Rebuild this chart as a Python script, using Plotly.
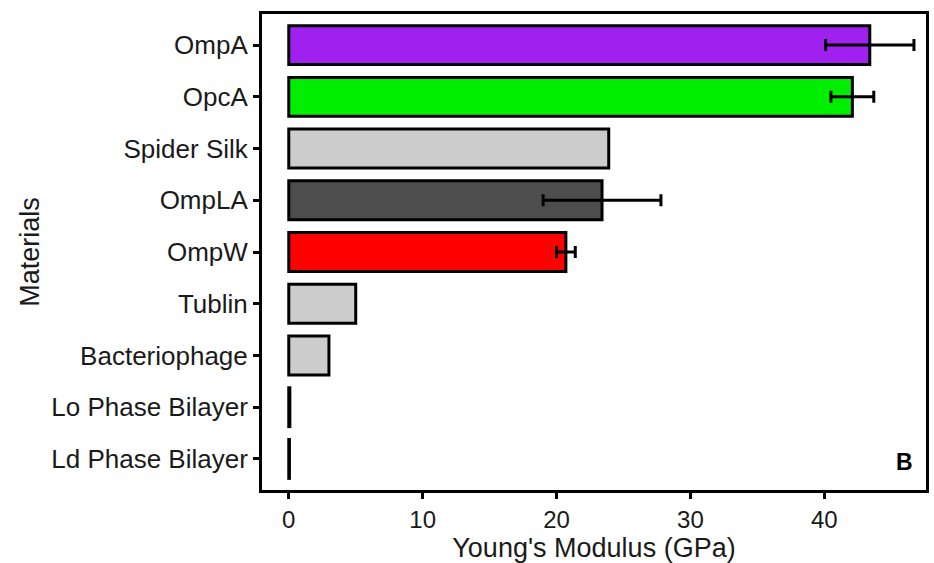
import plotly.graph_objects as go

materials = ["OmpA", "OpcA", "Spider Silk", "OmpLA", "OmpW", "Tublin",
             "Bacteriophage", "Lo Phase Bilayer", "Ld Phase Bilayer"]
modulus = [43.4, 42.1, 23.9, 23.4, 20.7, 5.0, 3.0, 0.08, 0.05]
errors = [3.3, 1.6, 0.0, 4.4, 0.7, 0.0, 0.0, 0.0, 0.0]
has_err = [True, True, False, True, True, False, False, False, False]
colors = ["#A020F0", "#00EE00", "#CCCCCC", "#4D4D4D", "#FF0000",
          "#CCCCCC", "#CCCCCC", "#CCCCCC", "#CCCCCC"]

FONT = "Liberation Sans, Arial, sans-serif"

fig = go.Figure()
fig.add_trace(go.Bar(
    y=materials, x=modulus, orientation="h",
    marker=dict(color=colors, line=dict(color="black", width=3)),
    width=0.75,
    showlegend=False,
))
err_y = [m for m, h in zip(materials, has_err) if h]
err_x = [v for v, h in zip(modulus, has_err) if h]
err_e = [e for e, h in zip(errors, has_err) if h]
fig.add_trace(go.Scatter(
    y=err_y, x=err_x, mode="markers",
    marker=dict(size=1, color="rgba(0,0,0,0)"),
    error_x=dict(type="data", array=err_e, visible=True,
                 color="black", thickness=3, width=6),
    showlegend=False, hoverinfo="skip",
))

fig.update_layout(
    width=934, height=563,
    margin=dict(l=262, r=5, t=14, b=73),
    paper_bgcolor="white", plot_bgcolor="white",
    font=dict(family=FONT, size=26, color="#1a1a1a"),
    bargap=0.25,
    xaxis=dict(
        range=[-2.0, 47.6], tickvals=[0, 10, 20, 30, 40],
        showgrid=False, zeroline=False,
        showline=True, linecolor="black", linewidth=3, mirror=True,
        ticks="outside", ticklen=6, tickwidth=3, tickcolor="black",
        tickfont=dict(size=24, color="#1a1a1a", family=FONT),
        title=dict(text="Young's Modulus (GPa)", font=dict(size=27, family=FONT),
                   standoff=2),
    ),
    yaxis=dict(
        categoryorder="array", categoryarray=materials[::-1],
        range=[-0.6, 8.6],
        showgrid=False, zeroline=False,
        showline=True, linecolor="black", linewidth=3, mirror=True,
        ticks="outside", ticklen=6, tickwidth=3, tickcolor="black",
        tickfont=dict(size=26, color="#1a1a1a", family=FONT),
        title=dict(text="Materials", font=dict(size=27, family=FONT),
                   standoff=4),
    ),
    annotations=[dict(
        text="<b>B</b>", xref="paper", yref="paper", x=0.983, y=0.058,
        xanchor="right", yanchor="middle", showarrow=False,
        font=dict(size=23, color="black", family=FONT),
    )],
)

fig.write_html("out.html")
